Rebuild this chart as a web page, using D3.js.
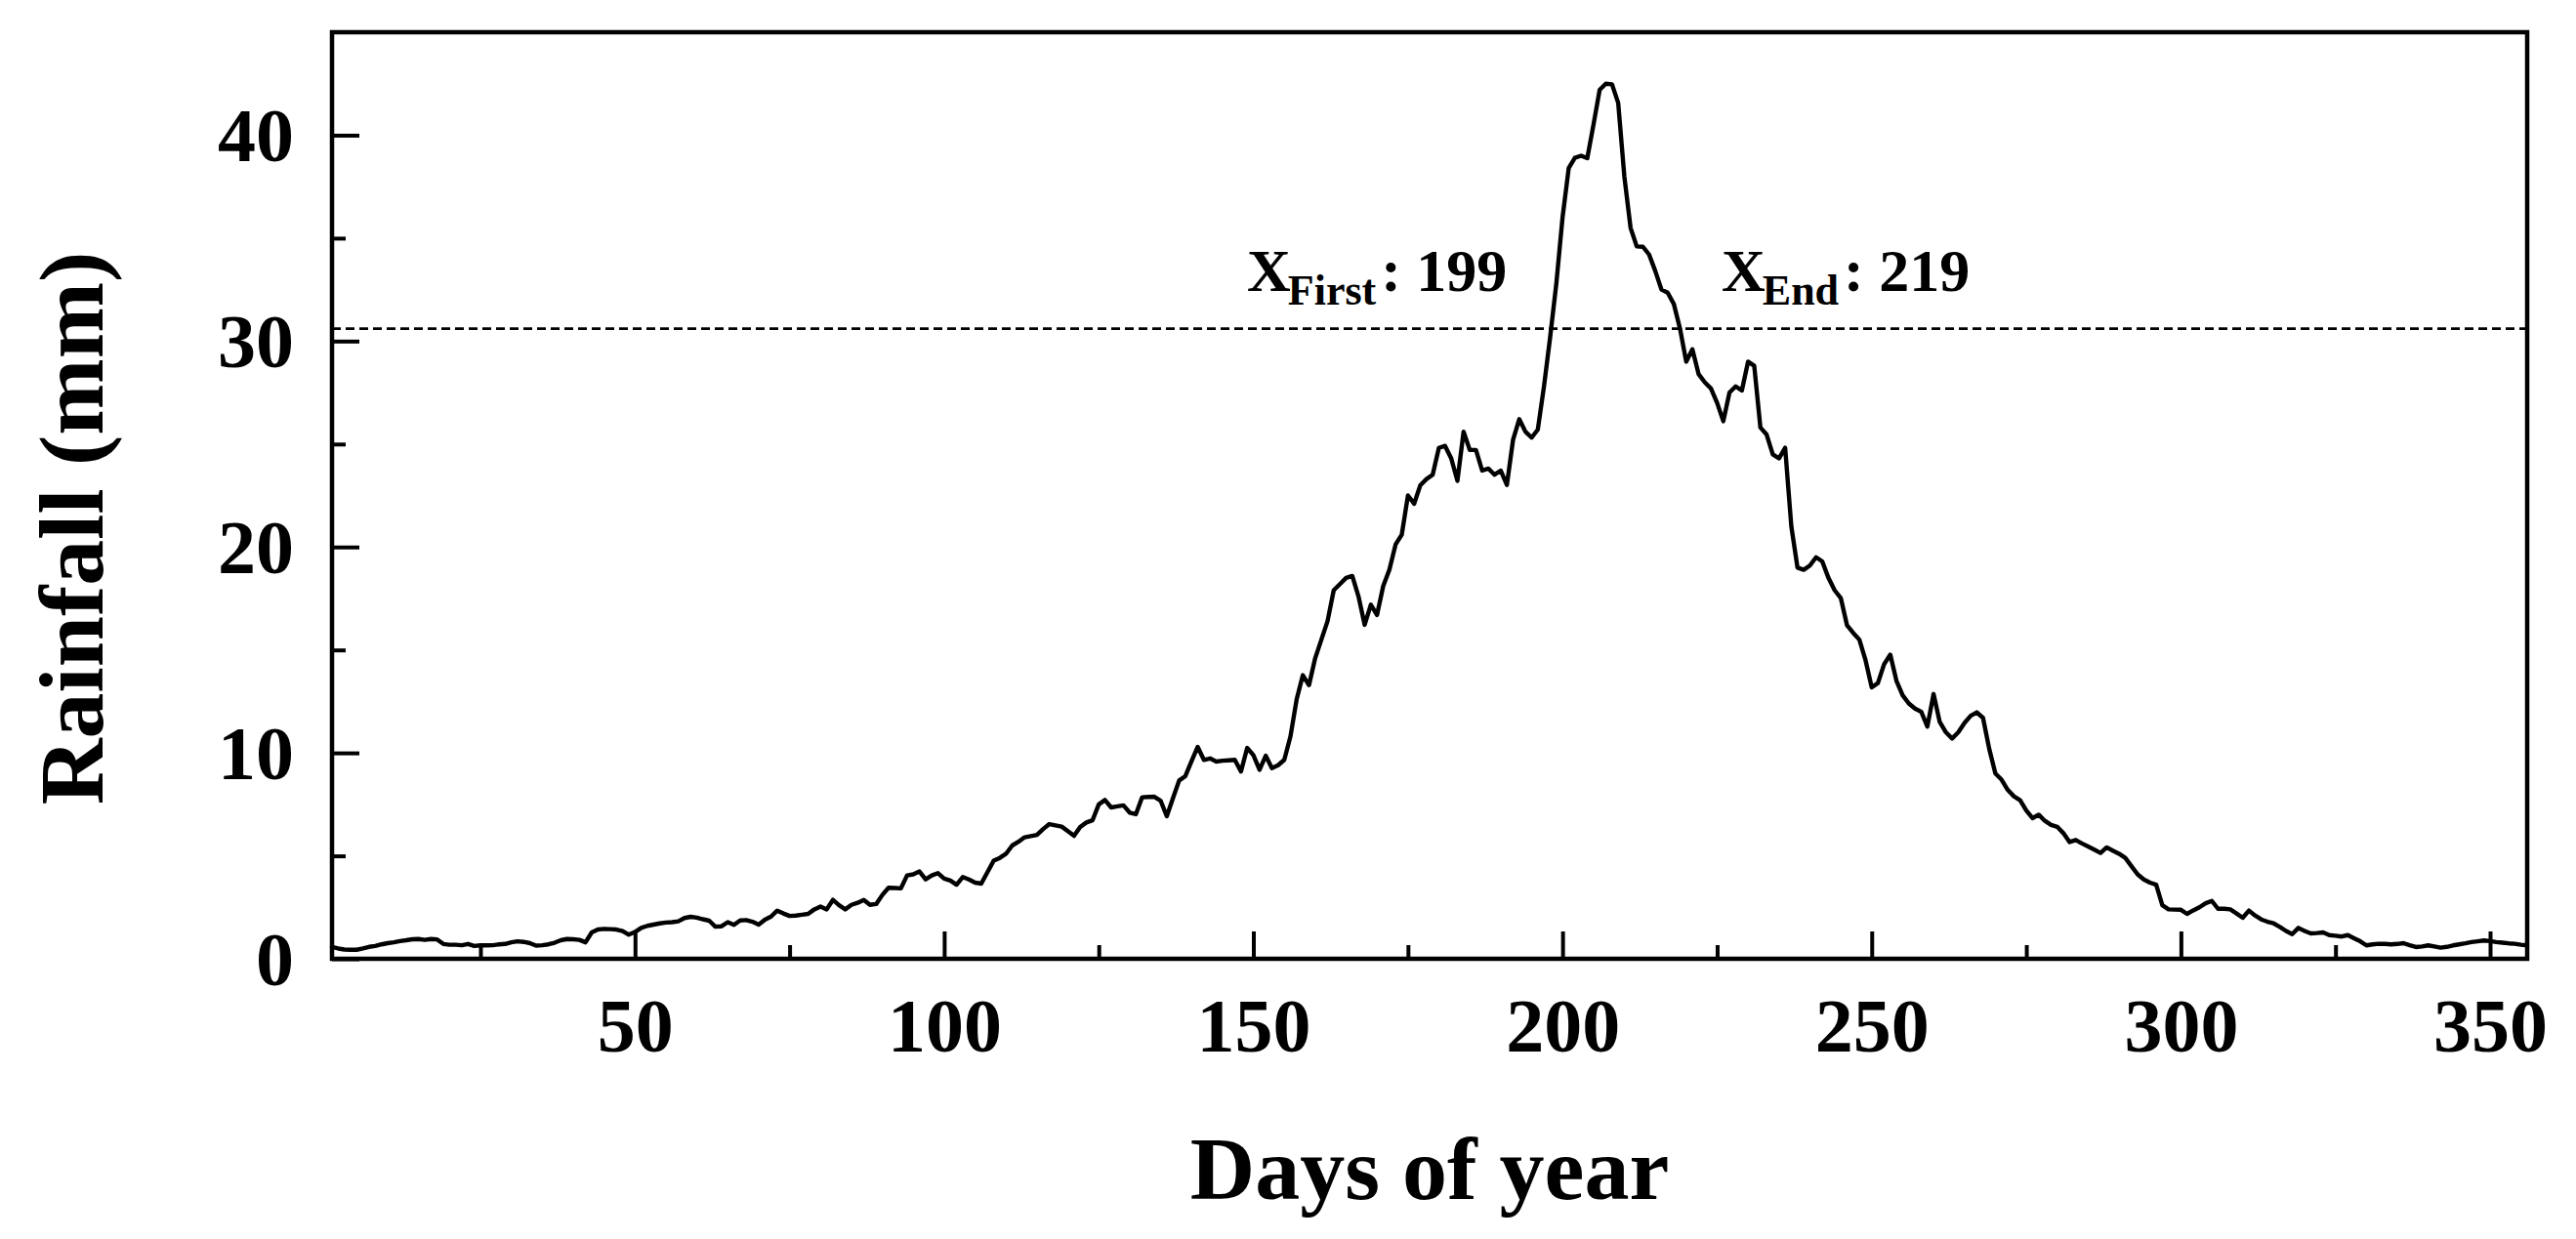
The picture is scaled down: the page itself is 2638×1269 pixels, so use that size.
<!DOCTYPE html>
<html><head><meta charset="utf-8">
<script src="https://cdn.jsdelivr.net/npm/d3@7"></script>
<style>
html,body{margin:0;padding:0;background:#fff;}
svg{display:block;}
text{font-family:"Liberation Serif","Times New Roman",serif;font-weight:bold;fill:#000;}
</style>
</head><body>
<svg id="chart" width="2638" height="1269"></svg>
<script>
// ---- data ----
const rainfall = [
0.57,0.50,0.45,0.44,0.44,0.50,0.58,0.62,0.70,0.76,
0.80,0.86,0.90,0.95,0.96,0.92,0.96,0.94,0.72,0.68,
0.68,0.66,0.72,0.62,0.65,0.65,0.66,0.70,0.72,0.80,
0.85,0.82,0.76,0.64,0.66,0.70,0.78,0.90,0.96,0.95,
0.92,0.80,1.28,1.42,1.45,1.44,1.42,1.35,1.17,1.30,
1.50,1.60,1.66,1.72,1.76,1.78,1.82,1.98,2.04,2.00,
1.92,1.85,1.56,1.58,1.78,1.65,1.86,1.88,1.80,1.66,
1.90,2.05,2.34,2.20,2.08,2.10,2.14,2.18,2.40,2.54,
2.40,2.86,2.60,2.40,2.62,2.72,2.86,2.62,2.66,3.10,
3.45,3.44,3.42,4.05,4.10,4.24,3.86,4.05,4.16,3.89,
3.80,3.60,3.97,3.85,3.70,3.65,4.21,4.76,4.90,5.10,
5.50,5.68,5.90,5.96,6.02,6.30,6.54,6.48,6.42,6.20,
5.97,6.40,6.62,6.73,7.50,7.71,7.35,7.40,7.45,7.10,
7.02,7.84,7.86,7.87,7.68,6.92,7.80,8.66,8.87,9.60,
10.29,9.66,9.73,9.58,9.62,9.64,9.66,9.10,10.24,9.89,
9.18,9.86,9.26,9.40,9.66,10.8,12.6,13.77,13.29,14.6,
15.5,16.4,17.9,18.2,18.5,18.59,17.6,16.22,17.2,16.7,
18.1,18.9,20.12,20.6,22.5,22.1,23.0,23.3,23.51,24.81,
24.91,24.3,23.21,25.6,24.71,24.71,23.71,23.81,23.51,23.71,
23.01,25.21,26.21,25.6,25.31,25.7,27.8,30.2,32.8,36.0,
38.4,38.9,39.0,38.88,40.5,42.2,42.5,42.47,41.57,37.98,
35.5,34.6,34.58,34.2,33.4,32.5,32.35,31.8,30.6,29.0,
29.6,28.4,28.0,27.7,27.0,26.11,27.5,27.8,27.6,29.0,
28.8,25.8,25.46,24.5,24.3,24.82,21.0,19.0,18.89,19.1,
19.5,19.3,18.5,17.9,17.52,16.2,15.83,15.5,14.5,13.18,
13.39,14.3,14.77,13.5,12.8,12.4,12.15,12.0,11.28,12.86,
11.5,11.0,10.7,11.0,11.45,11.8,11.97,11.7,10.2,9.0,
8.7,8.2,7.89,7.7,7.2,6.83,7.0,6.7,6.5,6.41,
6.1,5.67,5.77,5.6,5.45,5.3,5.14,5.41,5.25,5.1,
4.9,4.5,4.1,3.85,3.7,3.6,2.6,2.4,2.39,2.38,
2.18,2.35,2.5,2.7,2.81,2.43,2.43,2.40,2.2,1.99,
2.34,2.1,1.91,1.8,1.72,1.55,1.35,1.20,1.50,1.35,
1.23,1.25,1.28,1.15,1.12,1.08,1.15,1.0,0.85,0.65,
0.70,0.73,0.72,0.70,0.72,0.76,0.66,0.57,0.60,0.65,
0.60,0.54,0.58,0.65,0.70,0.75,0.81,0.85,0.89,0.86,
0.81,0.78,0.75,0.73,0.68,0.65
];
const days = d3.range(1, rainfall.length + 1);
const xDomain = [1, 356];
const yDomain = [0, 45];
const xMajorTicks = [50, 100, 150, 200, 250, 300, 350];
const xMinorTicks = [25, 75, 125, 175, 225, 275, 325];
const yMajorTicks = [0, 10, 20, 30, 40];
const yMinorTicks = [5, 15, 25, 35];
const threshold = 30.6;
const annoMain = ["X", "X"];
const annoSub = ["First", "End"];
const annoValue = ["199", "219"];
const xTitle = "Days of year";
const yTitle = "Rainfall (mm)";

// ---- layout ----
const L = 340, R = 2588, T = 33, B = 982;
const svg = d3.select("#chart");
svg.append("rect").attr("width", 2638).attr("height", 1269).attr("fill", "#fff");

const x = d3.scaleLinear().domain(xDomain).range([L, R]);
const y = d3.scaleLinear().domain(yDomain).range([B, T]);

// axes
const tickW = 4;
const gx = svg.append("g").attr("transform", `translate(0,${B})`)
  .call(d3.axisBottom(x).tickValues(xMajorTicks).tickSize(-28).tickFormat(d3.format("d")));
const gxm = svg.append("g").attr("transform", `translate(0,${B})`)
  .call(d3.axisBottom(x).tickValues(xMinorTicks).tickSize(-14).tickFormat(""));
const gy = svg.append("g").attr("transform", `translate(${L},0)`)
  .call(d3.axisLeft(y).tickValues(yMajorTicks).tickSize(-28).tickFormat(d3.format("d")));
const gym = svg.append("g").attr("transform", `translate(${L},0)`)
  .call(d3.axisLeft(y).tickValues(yMinorTicks).tickSize(-14).tickFormat(""));
[gx, gxm, gy, gym].forEach(g => {
  g.select(".domain").remove();
  g.selectAll(".tick line").attr("stroke", "#000").attr("stroke-width", tickW);
});
gx.selectAll(".tick text").attr("y", 95).attr("dy", 0)
  .style("font-size", "78px").attr("fill", "#000");
gy.selectAll(".tick text").attr("x", -39).attr("dy", "0.34em")
  .style("font-size", "78px").attr("fill", "#000");

// frame
svg.append("rect").attr("x", L).attr("y", T).attr("width", R - L).attr("height", B - T)
  .attr("fill", "none").attr("stroke", "#000").attr("stroke-width", 4.5);

// threshold dashed line
svg.append("line").attr("x1", L).attr("x2", R)
  .attr("y1", y(threshold)).attr("y2", y(threshold))
  .attr("stroke", "#000").attr("stroke-width", 2.8).attr("stroke-dasharray", "9,5");

// rainfall curve
const line = d3.line().x((d, i) => x(days[i])).y(d => y(d));
svg.append("path").datum(rainfall).attr("d", line)
  .attr("fill", "none").attr("stroke", "#000").attr("stroke-width", 4.4)
  .attr("stroke-linejoin", "round").attr("stroke-linecap", "round");

// annotations
const annoX = [1277, 1763];
const annoY = 298;
annoMain.forEach((m, i) => {
  const t = svg.append("text").attr("x", annoX[i]).attr("y", annoY).style("font-size", "62px");
  t.append("tspan").text(m);
  t.append("tspan").attr("dy", 14).attr("dx", -3).style("font-size", "44px").text(annoSub[i]);
  t.append("tspan").attr("dy", -14).attr("dx", 5).style("font-size", "62px").text(": " + annoValue[i]);
});

// axis titles
svg.append("text").attr("x", (L + R) / 2).attr("y", 1228).attr("text-anchor", "middle")
  .style("font-size", "92px").text(xTitle);
svg.append("text").attr("transform", "translate(105,541) rotate(-90)").attr("text-anchor", "middle")
  .style("font-size", "94px").text(yTitle);
</script>
</body></html>
